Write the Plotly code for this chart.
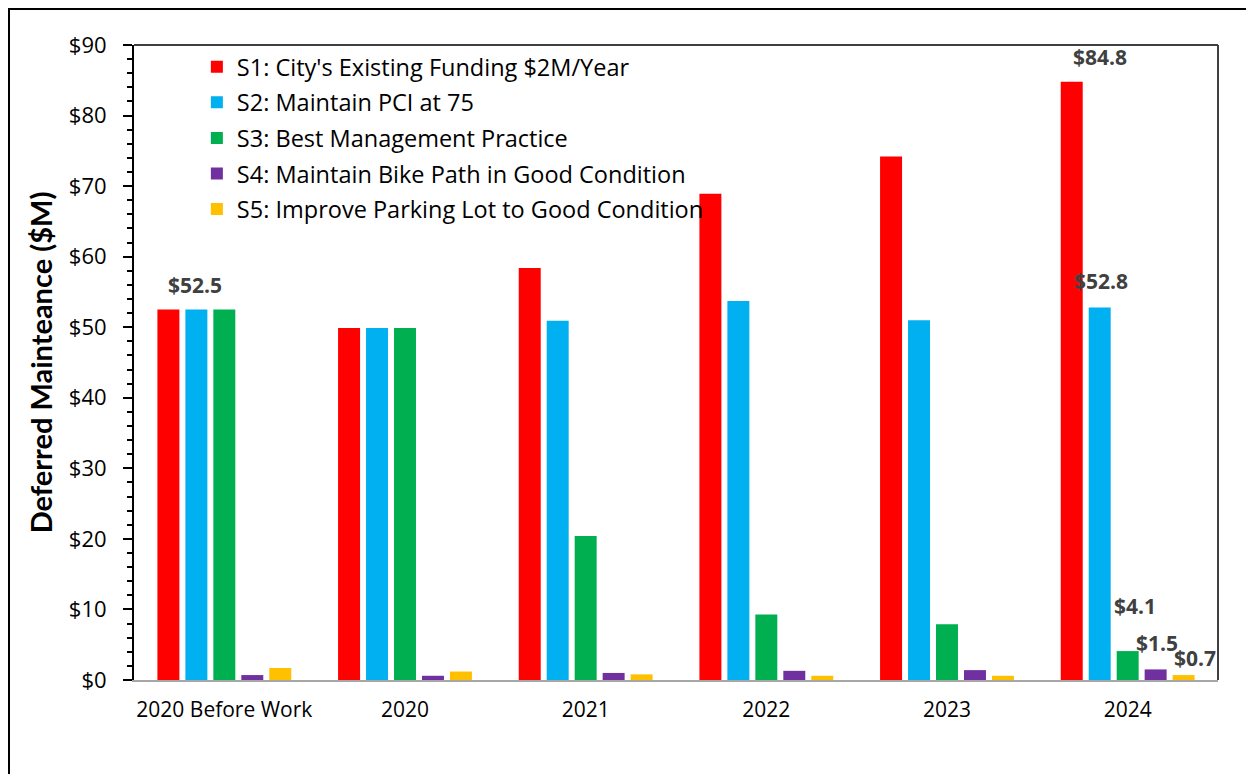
import plotly.graph_objects as go

categories = ["2020 Before Work", "2020", "2021", "2022", "2023", "2024"]
series_names = [
    "S1: City's Existing Funding $2M/Year",
    "S2: Maintain PCI at 75",
    "S3: Best Management Practice",
    "S4: Maintain Bike Path in Good Condition",
    "S5: Improve Parking Lot to Good Condition",
]
s1 = [52.5, 49.9, 58.4, 68.9, 74.2, 84.8]
s2 = [52.5, 49.9, 50.9, 53.7, 51.0, 52.8]
s3 = [52.5, 49.9, 20.4, 9.3, 7.9, 4.1]
s4 = [0.7, 0.6, 1.0, 1.3, 1.4, 1.5]
s5 = [1.7, 1.2, 0.8, 0.6, 0.6, 0.7]
colors = ["#FF0000", "#00B0F0", "#00B050", "#7030A0", "#FFC000"]
all_series = [s1, s2, s3, s4, s5]

# labelled points: (series index, category index, xshift px, yshift px)
labels = [(0, 0, -29, 25), (0, 5, -28, 25), (1, 5, -27, 26), (2, 5, 7, 45), (3, 5, 29, 26), (4, 5, 67, 17)]

FONT = "Open Sans"
fig = go.Figure()
for i, (name, vals) in enumerate(zip(series_names, all_series)):
    fig.add_trace(go.Bar(
        x=categories, y=vals, name=name, marker_color=colors[i],
        marker_line_width=0, legendgroup=f"g{i}",
    ))

for si, ci, xs, ys in labels:
    fig.add_annotation(
        x=ci, y=all_series[si][ci], text=f"${all_series[si][ci]:.1f}",
        showarrow=False, xshift=xs, yshift=ys, yanchor="middle",
        font=dict(family=FONT, size=21, color="#404040", weight="bold"),
    )

W, H = 1246, 766
L, R, T, B = 126, 36, 37, 94
fig.update_layout(
    width=W, height=H,
    margin=dict(l=L, r=R, t=T, b=B),
    paper_bgcolor="white", plot_bgcolor="white",
    barmode="group", bargap=0.226, bargroupgap=0.214,
    font=dict(family=FONT, size=20, color="black"),
    showlegend=True,
    legend=dict(
        x=0.058, y=1.0, xanchor="left", yanchor="top",
        bgcolor="rgba(0,0,0,0)", font=dict(family=FONT, size=23.5, color="black"),
        tracegroupgap=2, itemwidth=30,
    ),
)
fig.update_xaxes(
    type="category", categoryorder="array", categoryarray=categories,
    range=[-0.5, len(categories) - 0.5],
    showline=True, linecolor="#A6A6A6", linewidth=2, ticks="",
    tickfont=dict(family=FONT, size=21, color="black"),
    ticklabelstandoff=10,
    showgrid=False,
)
fig.update_yaxes(
    range=[0, 90], dtick=10, tickprefix="$",
    showline=True, linecolor="black", linewidth=2,
    ticks="outside", ticklen=9, tickcolor="black", tickwidth=2,
    minor=dict(dtick=2, ticks="outside", ticklen=5, tickcolor="black", tickwidth=1.5),
    showgrid=False, zeroline=False,
    tickfont=dict(family=FONT, size=22, color="black"),
    ticklabelstandoff=12,
    title=dict(text="Deferred Mainteance ($M)", standoff=8,
               font=dict(family="Lato", size=29, color="black", weight="bold")),
)
pw = W - L - R
ph = H - T - B
# top and right border of plot area
fig.add_shape(type="line", xref="paper", yref="paper", x0=0, x1=1, y0=1, y1=1,
              line=dict(color="#404040", width=2))
fig.add_shape(type="line", xref="paper", yref="paper", x0=1, x1=1, y0=0, y1=1,
              line=dict(color="#404040", width=2))
# outer chart border
fig.add_shape(type="rect", xref="paper", yref="paper",
              x0=(1 - L) / pw, x1=(W + 10 - L) / pw,
              y0=(ph + T - H - 10) / ph, y1=(ph + T - 1) / ph,
              line=dict(color="black", width=2))

fig.write_html("out.html")
